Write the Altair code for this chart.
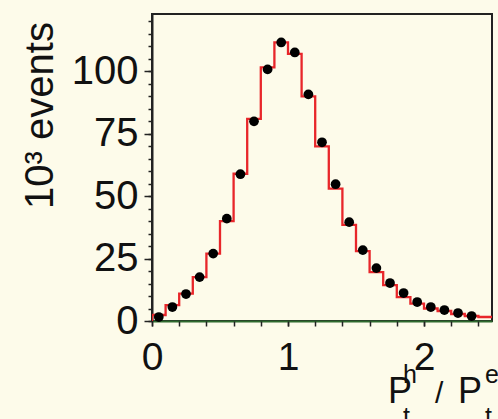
import altair as alt
import pandas as pd

# bin centres (bin width 0.1) of Pt^h / Pt^e
centers = [0.05, 0.15, 0.25, 0.35, 0.45, 0.55, 0.65, 0.75, 0.85, 0.95,
           1.05, 1.15, 1.25, 1.35, 1.45, 1.55, 1.65, 1.75, 1.85, 1.95,
           2.05, 2.15, 2.25, 2.35, 2.45]
# data points (10^3 events)
data_vals = [1.6, 5.6, 10.8, 17.6, 27.0, 41.0, 58.8, 80.0, 100.8, 111.6,
             107.6, 90.8, 71.6, 54.8, 39.6, 28.4, 21.2, 15.2, 11.2, 7.6,
             5.6, 4.4, 3.2, 2.0]
# simulation histogram (10^3 events)
mc_vals = [2.4, 6.4, 11.0, 17.6, 27.0, 40.0, 59.0, 81.0, 101.6, 111.6,
           107.0, 90.0, 70.0, 53.0, 38.5, 28.0, 19.6, 14.4, 9.6, 7.0,
           5.0, 4.0, 2.8, 2.0, 1.6]
half_width = 0.05

x_major = [0, 1, 2]
x_minor = [0, 0.2, 0.4, 0.6, 0.8, 1.0, 1.2, 1.4, 1.6, 1.8, 2.0, 2.2, 2.4]
y_major = [0, 25, 50, 75, 100]
y_minor = [0, 5, 10, 15, 20, 25, 30, 35, 40, 45, 50, 55, 60, 65, 70, 75, 80,
           85, 90, 95, 100, 105, 110, 115, 120]

BG = "#FDFBEA"
RED = "#E8262A"
GREEN = "#2F6B2F"
FONT = "Liberation Sans"

# step outline of the histogram
step_x = [centers[0] - half_width] + [c - half_width for c in centers] + [centers[-1] + half_width]
step_y = [0] + mc_vals + [mc_vals[-1]]
step_df = pd.DataFrame({"x": step_x, "y": step_y})
pts_df = pd.DataFrame({"x": centers[:len(data_vals)], "y": data_vals})

xscale = alt.Scale(domain=[0, 2.5], nice=False, zero=False)
yscale = alt.Scale(domain=[0, 123], nice=False)

x_axis_major = alt.Axis(values=x_major, orient="bottom", title="", format="d",
                        labelFontSize=39, labelFont=FONT, labelColor="#111",
                        labelPadding=12, tickSize=5, tickColor="#222", tickWidth=1.5,
                        domainColor=GREEN, domainWidth=2, grid=False, labelFlush=False)
y_axis_major = alt.Axis(values=y_major, orient="left", title="10³ events",
                        labelFontSize=40, labelFont=FONT, labelColor="#111",
                        labelPadding=6, tickSize=8, tickColor="#222", tickWidth=1.5,
                        domainColor="#222", domainWidth=2, grid=False,
                        titleFontSize=40, titleFont=FONT, titleFontWeight="normal",
                        titleColor="#111", titleX=-112, titleY=101, titleAngle=-90,
                        titleAlign="center", titleBaseline="middle")

x_axis_minor = alt.Axis(values=x_minor, orient="bottom", title="", labels=False,
                        tickSize=5, tickColor="#222", tickWidth=1.5, domain=False, grid=False)
y_axis_minor = alt.Axis(values=y_minor, orient="left", title="", labels=False,
                        tickSize=4, tickColor="#222", tickWidth=1.5, domain=False, grid=False)

hist = alt.Chart(step_df).mark_line(interpolate="step-after", color=RED,
                                    strokeWidth=2.3, clip=True).encode(
    x=alt.X("x:Q", scale=xscale, axis=x_axis_major),
    y=alt.Y("y:Q", scale=yscale, axis=y_axis_major),
)

pts = alt.Chart(pts_df).mark_point(filled=True, color="#000", size=95, opacity=1).encode(
    x=alt.X("x:Q", scale=xscale, axis=x_axis_minor),
    y=alt.Y("y:Q", scale=yscale, axis=y_axis_minor),
)

# x-axis title P_t^h / P_t^e built from text pieces
t_text = ["P", "h", "t", "/", "P", "e", "t"]
t_x = [236, 251, 251, 283, 306, 333, 333]
t_y = [389, 369, 411, 389, 389, 369, 411]
t_size = [36, 25, 25, 30, 36, 25, 25]
title_df = pd.DataFrame({"t": t_text, "px": t_x, "py": t_y, "fs": t_size})
xtitle = alt.Chart(title_df).mark_text(align="left", baseline="alphabetic",
                                       font=FONT, color="#111").encode(
    x=alt.X("px:Q", scale=None, axis=None),
    y=alt.Y("py:Q", scale=None, axis=None),
    text="t:N",
    size=alt.Size("fs:Q", scale=None, legend=None),
)

chart = alt.layer(hist, pts, xtitle).resolve_axis(
    x="independent", y="independent"
).resolve_scale(x="independent", y="independent").properties(
    width=340, height=307,
    autosize=alt.AutoSizeParams(type="none"),
    padding={"left": 152, "top": 14, "right": 6, "bottom": 98},
    background=BG,
).configure_view(
    fill=BG, stroke="#222", strokeWidth=2
)

chart.save("out.html", embed_options={"renderer": "svg", "actions": False})
